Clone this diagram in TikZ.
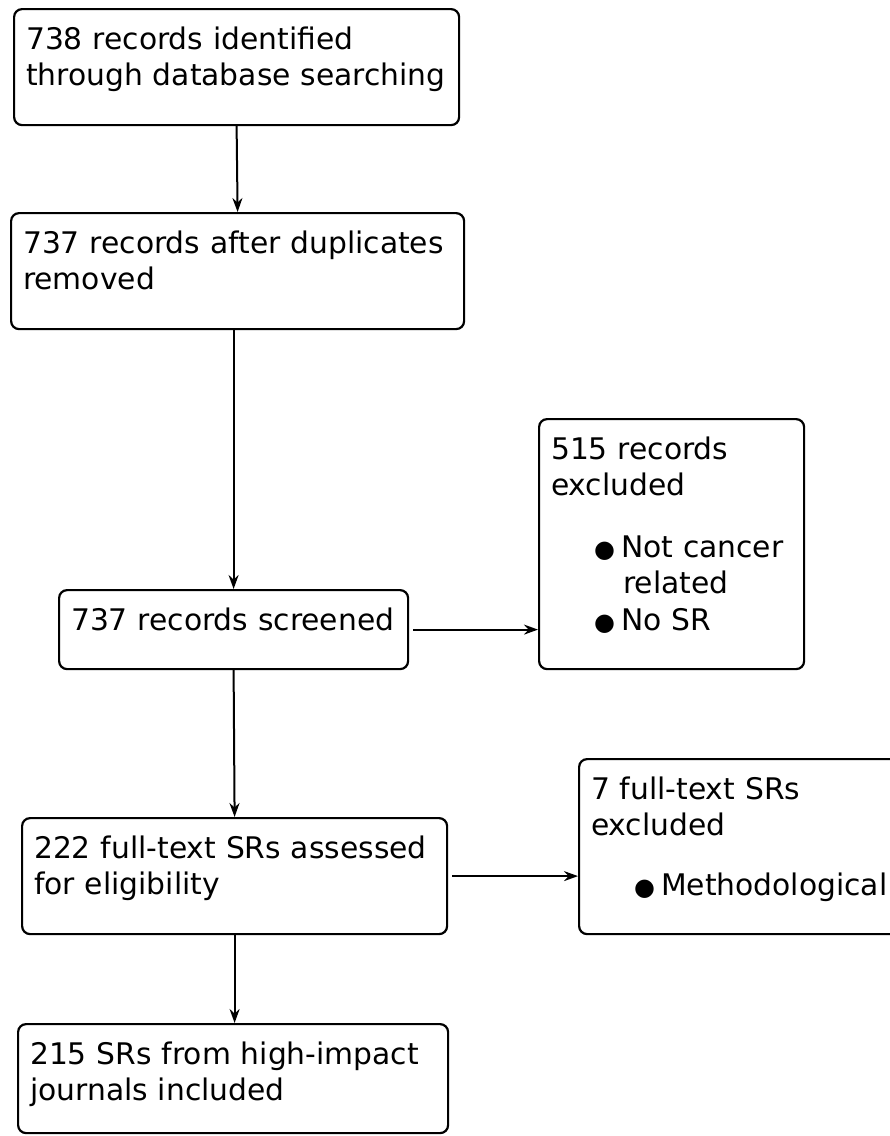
\documentclass[tikz,border=0pt]{standalone}
\usepackage{fontspec}
\setmainfont{DejaVu Sans}
\usetikzlibrary{arrows.meta}
\tikzset{
  box/.style={draw, rounded corners=8pt, line width=2.2pt, anchor=north west,
    align=left, inner xsep=12pt, inner ysep=0pt, text height=40pt,
    font=\fontsize{29.75}{36.5}\selectfont},
  arr/.style={-{Stealth[length=14pt,width=10pt]}, line width=2pt},
}
\newcommand{\blt}{\hspace*{43pt}{\fontsize{24}{24}\selectfont ●}\hspace{6pt}}
\newcommand{\bltgap}{\hspace*{72pt}}
\begin{document}
\begin{tikzpicture}[x=1pt, y=-1pt]
\path[use as bounding box, clip] (0,0) rectangle (890,1136);
\node[box, text width=421pt, text depth=76pt] (rec0) at (13,8) {738 records identified\\through database searching};
\node[box, text width=429pt, text depth=76pt] (rec1) at (10,212) {737 records after duplicates\\removed};
\node[box, text width=325pt, text depth=39pt] (rec2) at (58,589) {737 records screened};
\node[box, text width=241pt, text depth=210pt] (exc0) at (538,418) {515 records\\excluded\\[25pt]\blt Not cancer\\\bltgap related\\\blt No SR};
\node[box, text width=401pt, text depth=76pt] (rec3) at (21,817) {222 full-text SRs assessed\\for eligibility};
\node[box, text width=316pt, text depth=135pt] (exc1) at (578,758) {7 full-text SRs\\excluded\\[23pt]\blt Methodological};
\node[box, text width=406pt, text depth=69pt] (rec4) at (17,1023) {215 SRs from high-impact\\journals included};
\draw[arr] (rec0.south) -- (rec1.north);
\draw[arr] (rec1.south -| rec2.north) -- (rec2.north);
\draw[arr] (rec2.south) -- (rec3.north);
\draw[arr] (rec3.south) -- (rec3.south |- rec4.north);
\draw[arr, shorten <=4pt] (rec2.east) -- (rec2.east -| exc0.west);
\draw[arr, shorten <=4pt] (rec3.east) -- (rec3.east -| exc1.west);
\end{tikzpicture}
\end{document}
